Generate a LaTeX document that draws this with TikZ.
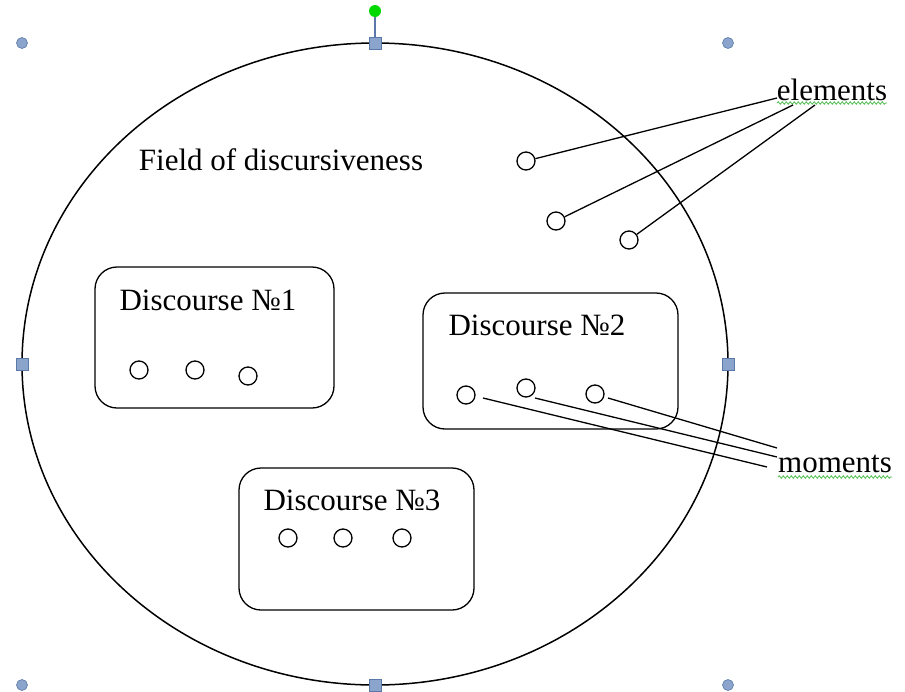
\documentclass[tikz,border=0pt]{standalone}
\usepackage{fontspec}
\setmainfont{Liberation Serif}
\usetikzlibrary{decorations.pathmorphing,shapes.geometric}
\definecolor{hfill}{HTML}{8AA4CC}
\definecolor{hdraw}{HTML}{5A78A8}
\definecolor{spell}{HTML}{5CC25C}
\tikzset{
  lbl/.style={font=\fontsize{31}{37}\selectfont, inner sep=0pt},
  dot/.style={circle, draw, line width=1.3pt, minimum size=18pt, inner sep=0pt},
  dbox/.style={draw, line width=1.3pt, rounded corners=22pt},
  conn/.style={line width=1.3pt},
  hround/.style={circle, fill=hfill, draw=hdraw, line width=0.6pt, minimum size=11pt, inner sep=0pt},
  hsquare/.style={rectangle, fill=hfill, draw=hdraw, line width=0.8pt, minimum size=12pt, inner sep=0pt},
  squig/.style={spell, line width=0.9pt, decorate, decoration={snake, amplitude=1.2pt, segment length=4pt}}
}
\begin{document}
\begin{tikzpicture}[x=1pt,y=-1pt]
\useasboundingbox (0,0) rectangle (905,691);
% field ellipse
\node[ellipse, draw, line width=1.5pt, minimum width=706pt, minimum height=642pt, inner sep=0pt] (field) at (375,364) {};
% selection handles
\draw[hdraw, line width=1.2pt] (375,14) -- (375,43);
\node[circle, fill=green!85!black, minimum size=12pt, inner sep=0pt] (rot) at (375,11) {};
\node[hround] (h1) at (22,43) {};
\node[hround] (h2) at (728,43) {};
\node[hround] (h3) at (22,685) {};
\node[hround] (h4) at (728,685) {};
\node[hsquare] (s1) at (375,43) {};
\node[hsquare] (s2) at (22,364) {};
\node[hsquare] (s3) at (728,364) {};
\node[hsquare] (s4) at (375,685) {};
% title
\node[lbl] (title) at (281,160) {Field of discursiveness};
% element circles
\node[dot] (e1) at (526,161) {};
\node[dot] (e2) at (556,221) {};
\node[dot] (e3) at (629,240) {};
% discourse boxes
\draw[dbox] (95,267) rectangle (334,408);
\node[lbl] (d1) at (208,300) {Discourse №1};
\node[dot] (a1) at (139,370) {};
\node[dot] (a2) at (195,370) {};
\node[dot] (a3) at (248,376) {};
\draw[dbox] (423,293) rectangle (678,429);
\node[lbl] (d2) at (537,325) {Discourse №2};
\node[dot] (m1) at (466,395) {};
\node[dot] (m2) at (526,388) {};
\node[dot] (m3) at (595,394) {};
\draw[dbox] (239,468) rectangle (474,610);
\node[lbl] (d3) at (352,500) {Discourse №3};
\node[dot] (c1) at (288,538) {};
\node[dot] (c2) at (343,538) {};
\node[dot] (c3) at (402,538) {};
% labels
\node[lbl] (elements) at (832,90) {elements};
\node[lbl] (moments) at (835,464) {moments};
\draw[squig] (777,103) -- (887,103);
\draw[squig] (778,477) -- (892,477);
% connectors to elements
\coordinate (el1) at (777,98);
\coordinate (el2) at (793,105);
\coordinate (el3) at (815,105);
\draw[conn] (e1) -- (el1);
\draw[conn] (e2) -- (el2);
\draw[conn] (e3) -- (el3);
% connectors to moments
\coordinate (ms1) at (483,398);
\coordinate (ms2) at (535,398);
\coordinate (ms3) at (608,398);
\coordinate (mo1) at (767,467);
\coordinate (mo2) at (777,457);
\coordinate (mo3) at (777,448);
\draw[conn] (ms1) -- (mo1);
\draw[conn] (ms2) -- (mo2);
\draw[conn] (ms3) -- (mo3);
\end{tikzpicture}
\end{document}
